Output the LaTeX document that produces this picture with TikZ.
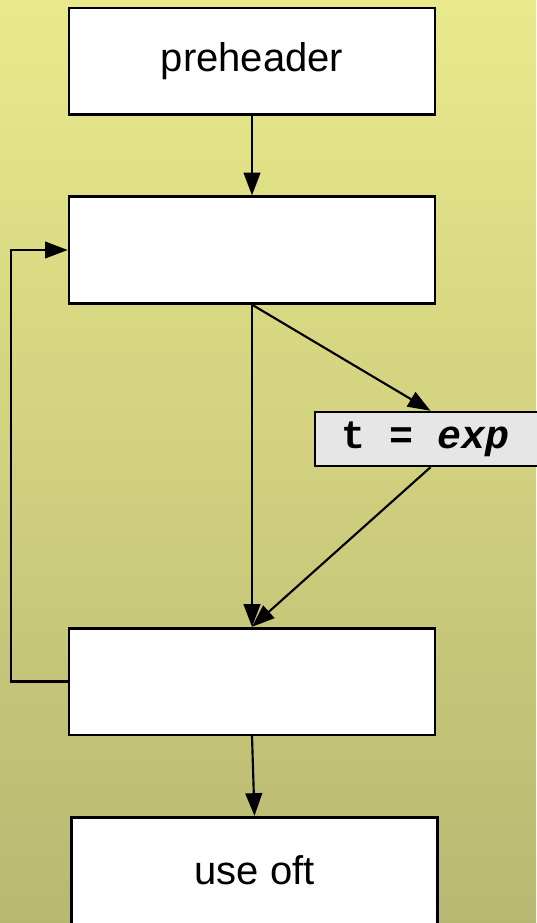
\documentclass[tikz,border=0pt]{standalone}
\usepackage{fontspec}
\setmainfont{Liberation Sans}
\newfontfamily\monob{Liberation Mono}
\usetikzlibrary{arrows.meta}
\definecolor{bgtop}{RGB}{233,233,140}
\definecolor{bgbot}{RGB}{184,184,114}
\definecolor{condfill}{RGB}{230,230,230}
\begin{document}
\begin{tikzpicture}[x=0.75pt,y=-0.75pt,
  blk/.style={draw=black,fill=white,line width=2pt,minimum width=274.5pt,minimum height=80pt,inner sep=0pt,font=\fontsize{30}{36}\selectfont},
  cond/.style={draw=black,fill=condfill,line width=1.8pt,minimum width=173pt,minimum height=40.5pt,inner sep=0pt,anchor=west,font=\monob\bfseries\fontsize{30}{36}\selectfont},
  arr/.style={-{Triangle[length=17pt,width=12.5pt]},line width=1.6pt}]
\shade[top color=bgtop,bottom color=bgbot] (0,0) rectangle (536,923);
\useasboundingbox (0,0) rectangle (536,923);
\node[blk] (pre) at (252,61.5) {\raisebox{-2pt}{preheader}};
\node[blk] (hdr) at (252,250) {};
\node[cond] (t) at (314,439) {\hspace*{-8pt}t = \textit{exp}};
\node[blk] (lat) at (252,681.5) {};
\node[blk] (use) at (254.5,870.5) {use oft};
\draw[arr] (pre.south) -- (hdr.north);
\draw[arr] (hdr.south) -- (lat.north);
\draw[arr] (hdr.south) -- (t.north);
\draw[arr] (t.south) -- (lat.north);
\draw[arr] (lat.south) -- (use.north);
\coordinate (loopx) at (11,0);
\draw[arr] (lat.west) -- (loopx |- lat.west) |- (hdr.west);
\end{tikzpicture}
\end{document}
